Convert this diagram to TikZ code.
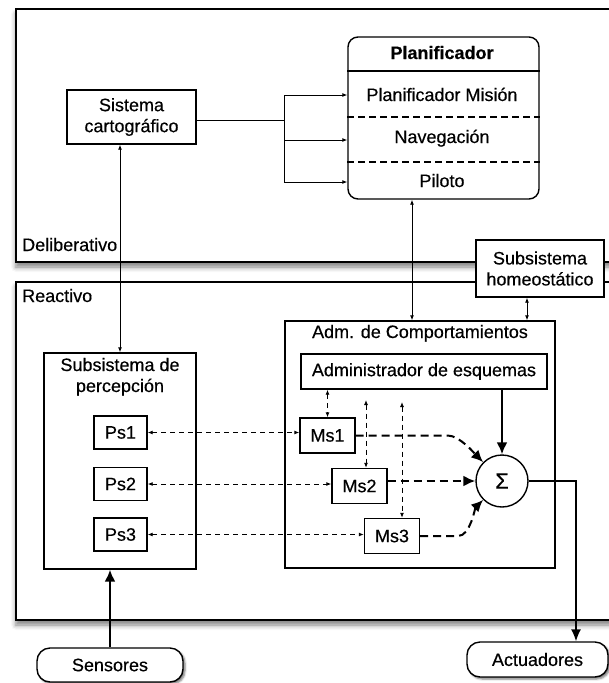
\documentclass[tikz,border=0pt]{standalone}
\usepackage{fontspec}
\setmainfont{Liberation Sans}[FakeBold=0.4]
\usetikzlibrary{arrows.meta,shadows.blur,calc}
\begin{document}
\begin{tikzpicture}[x=1pt,y=-1pt,
  every node/.style={font=\fontsize{18}{21}\selectfont, inner sep=0pt},
  layer/.style={draw, line width=2pt, fill=white,
    blur shadow={shadow xshift=0pt, shadow yshift=-5pt, shadow blur radius=5pt, shadow opacity=50}},
  blk/.style={draw, line width=1.4pt, fill=white, align=center},
  io/.style={blk, rounded corners=13pt,
    blur shadow={shadow xshift=2pt, shadow yshift=-2pt, shadow blur radius=2pt, shadow opacity=55}},
  fine/.style={line width=0.9pt},
  onetip/.style={-{Latex[length=5pt,width=4pt]}},
  twoway/.style={{Latex[length=5pt,width=4pt]}-{Latex[length=5pt,width=4pt]}},
  bigtip/.style={line width=2pt, -{Latex[length=12pt,width=11pt]}},
  sdash/.style={fine, dash pattern=on 5pt off 4pt},
  bdash/.style={line width=2pt, dash pattern=on 8pt off 5pt, -{Latex[length=12pt,width=11pt]}},
  sepdash/.style={line width=1.5pt, dash pattern=on 7pt off 4pt},
]
\useasboundingbox (0,0) rectangle (609,683);
\clip (0,0) rectangle (609,683);

% the two layers
\node[layer, minimum width=604pt, minimum height=253pt] (delib) at (318,135.5) {};
\node[layer, minimum width=604pt, minimum height=338pt] (reac) at (318,451) {};
\node[anchor=base west] (ldel) at (22,251) {Deliberativo};
\node[anchor=base west] (lreac) at (22,302) {Reactivo};

% deliberative layer
\node[blk, minimum width=129pt, minimum height=54pt] (sis) at (131.5,117) {Sistema\\cartográfico};
\node[blk, rounded corners=10pt, minimum width=191pt, minimum height=162pt] (plan) at (443.5,118) {};
\node[anchor=base, font=\fontsize{18}{21}\selectfont\bfseries] (ptitle) at (442,59) {Planificador};
\node[anchor=base] (pmis) at (442,101) {Planificador Misión};
\node[anchor=base] (pnav) at (442,143) {Navegación};
\node[anchor=base] (ppil) at (442,187) {Piloto};
\draw[line width=2pt] (plan.west |- 0,71) -- (plan.east |- 0,71);
\draw[sepdash] (plan.west |- 0,117) -- (plan.east |- 0,117);
\draw[sepdash] (plan.west |- 0,162) -- (plan.east |- 0,162);

% homeostatic subsystem, straddling both layers
\node[blk, minimum width=128pt, minimum height=57pt] (homeo) at (540,268.5) {Subsistema\\homeostático};

% reactive layer
\node[blk, minimum width=152pt, minimum height=216pt] (percep) at (120,461) {};
\node[anchor=base] (pert1) at (120,371) {Subsistema de};
\node[anchor=base] (pert2) at (120,392) {percepción};
\node[blk, minimum width=53pt, minimum height=33pt] (ps1) at (120.5,432.5) {Ps1};
\node[blk, minimum width=53pt, minimum height=33pt] (ps2) at (120.5,484) {Ps2};
\node[blk, minimum width=53pt, minimum height=33pt] (ps3) at (120.5,534.5) {Ps3};

\node[blk, minimum width=270pt, minimum height=247pt] (adm) at (420,444.5) {};
\node[anchor=base] (admt) at (420,338) {Adm. de Comportamientos};
\node[blk, minimum width=246pt, minimum height=35pt] (esq) at (424,371.5) {Administrador de esquemas};
\node[blk, minimum width=55pt, minimum height=35pt] (ms1) at (327.5,435.5) {Ms1};
\node[blk, minimum width=55pt, minimum height=35pt] (ms2) at (359.5,486) {Ms2};
\node[blk, minimum width=55pt, minimum height=35pt] (ms3) at (392,536) {Ms3};
\node[draw, circle, line width=1.4pt, fill=white, minimum size=52pt, font=\fontsize{22}{22}\selectfont] (sig) at (502,481) {Σ};

% inputs and outputs
\node[io, minimum width=146pt, minimum height=34pt] (sens) at (110,665) {Sensores};
\node[io, minimum width=141pt, minimum height=35pt] (act) at (537.5,659.5) {Actuadores};

% map system to planner levels
\coordinate (br) at (284,120);
\coordinate (b1) at (284,95);
\coordinate (b2) at (284,140);
\coordinate (b3) at (284,182);
\draw[fine] (sis.east |- br) -- (br);
\draw[fine] (b1) -- (b3);
\draw[fine, onetip] (b1) -- (b1 -| plan.west);
\draw[fine, onetip] (b2) -- (b2 -| plan.west);
\draw[fine, onetip] (b3) -- (b3 -| plan.west);

% links between layers
\draw[fine, twoway] (percep.north |- sis.south) -- (percep.north);
\coordinate (pa) at (412,0);
\draw[fine, twoway] (pa |- plan.south) -- (pa |- adm.north);
\coordinate (ha) at (527,0);
\draw[fine, twoway] (ha |- homeo.south) -- (ha |- adm.north);

% perception to motor schemas
\draw[sdash, twoway] (ps1.east) -- (ps1.east -| ms1.west);
\draw[sdash, twoway] (ps2.east) -- (ps2.east -| ms2.west);
\draw[sdash, twoway] (ps3.east) -- (ps3.east -| ms3.west);

% schema manager to motor schemas
\draw[sdash, twoway] (ms1.north |- esq.south) -- (ms1.north);
\coordinate (t2) at (366,400);
\draw[sdash, twoway] (t2) -- (t2 |- ms2.north);
\coordinate (t3) at (402,402);
\draw[sdash, twoway] (t3) -- (t3 |- ms3.north);

% summation
\draw[bigtip] (sig.north |- esq.south) -- (sig.north);
\draw[bdash] (ms1.east) -- ++(92,0) coordinate (m1b)
  .. controls ($(m1b)+(12,0)$) and ($(sig.135)+(-8,-8)$) .. (sig.135);
\draw[bdash] ([yshift=5pt]ms2.east) -- ([yshift=5pt]ms2.east -| sig.west);
\draw[bdash] (ms3.east) -- ++(38,0) coordinate (m3b)
  .. controls ($(m3b)+(12,0)$) and ($(sig.-135)+(-8,8)$) .. (sig.-135);

% sensors and actuators
\draw[bigtip] (sens.north) -- (sens.north |- percep.south);
\coordinate (ao) at (576,0);
\draw[line width=1.4pt, -{Latex[length=12pt,width=10pt]}] (sig.east) -- (sig.east -| ao) -- (act.north -| ao);
\end{tikzpicture}
\end{document}
